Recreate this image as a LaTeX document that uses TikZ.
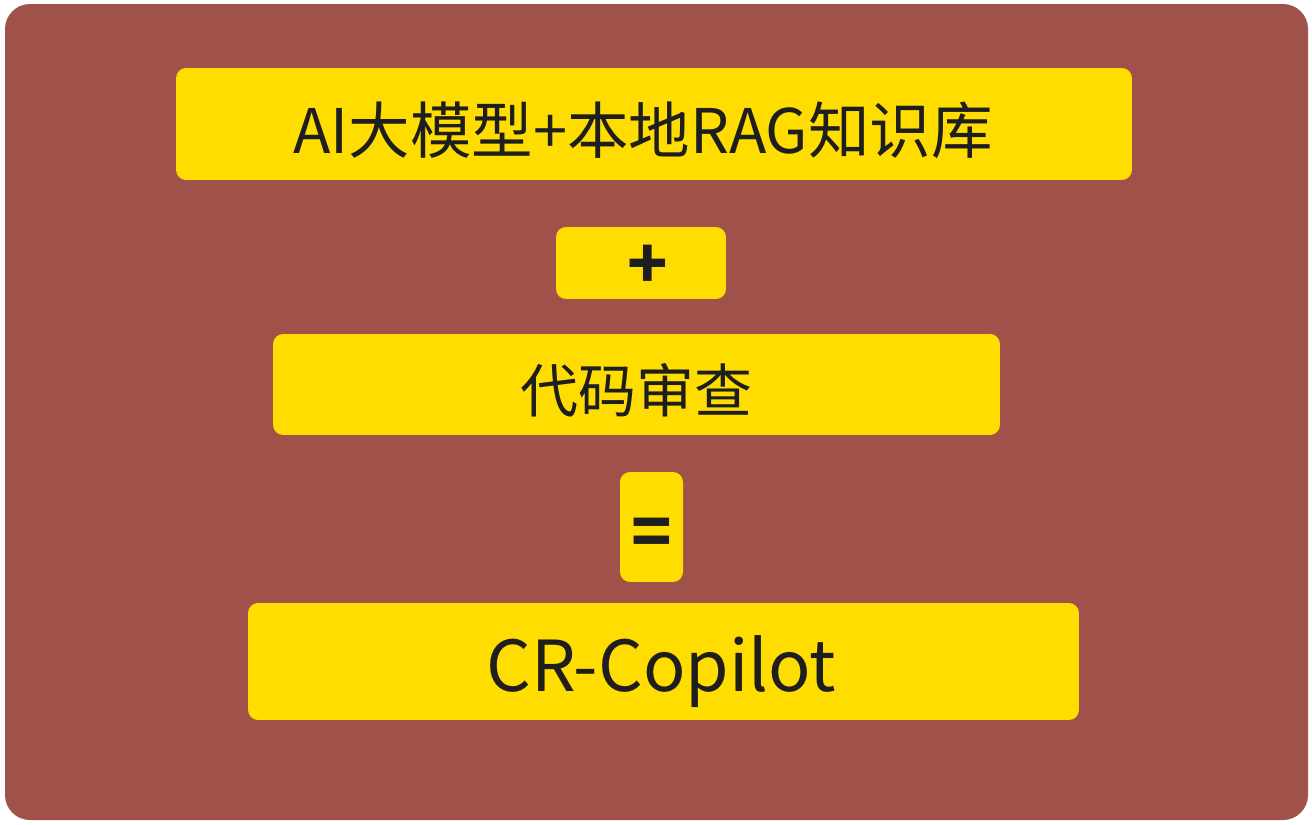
\documentclass[tikz,border=0pt]{standalone}
\usepackage{fontspec}
\setmainfont{Noto Sans CJK SC}
\usetikzlibrary{positioning}
\definecolor{brickred}{RGB}{160,82,74}
\definecolor{signyellow}{RGB}{255,221,0}
\definecolor{inkblack}{RGB}{30,30,30}

\begin{document}
\begin{tikzpicture}[
        x=0.02cm,
        y=-0.02cm,
        term box/.style={
            fill=signyellow,
            rounded corners=0.2cm,
            inner sep=0pt,
        },
        term text/.style={
            inner sep=0pt,
            text=inkblack,
            font=\fontsize{33}{36}\selectfont,
        },
        op text/.style={
            term text,
            font=\fontsize{38}{40}\selectfont\bfseries,
        }
    ]
    \useasboundingbox (0,0) rectangle (1312,825);
    \fill[brickred, rounded corners=0.5cm] (5,4) rectangle (1308,820);
    \node[term box, minimum width=19.12cm, minimum height=2.24cm] (model) at (654,124) {};
    \node[term box, minimum width=3.4cm, minimum height=1.44cm] (plus) at (641,263) {};
    \node[term box, minimum width=14.54cm, minimum height=2.02cm] (review) at (636.5,384.5) {};
    \node[term box, minimum width=1.26cm, minimum height=2.2cm] (equals) at (651.5,527) {};
    \node[term box, minimum width=16.62cm, minimum height=2.34cm] (copilot) at (663.5,661.5) {};
    % texts, set a little below the middle of their boxes
    \node[term text, font=\fontsize{35}{38}\selectfont] (model text) at ([xshift=-0.22cm, yshift=-0.12cm]model.center) {AI大模型+本地RAG知识库};
    \node[op text] (plus text) at ([xshift=0.14cm, yshift=-0.08cm]plus.center) {+};
    \node[term text] (review text) at ([yshift=-0.12cm]review.center) {代码审查};
    \node[op text] (equals text) at ([yshift=-0.2cm]equals.center) {=};
    \node[term text, font=\fontsize{40}{44}\selectfont] (copilot text) at ([xshift=-0.04cm, yshift=-0.2cm]copilot.center) {CR-Copilot};
\end{tikzpicture}
\end{document}
